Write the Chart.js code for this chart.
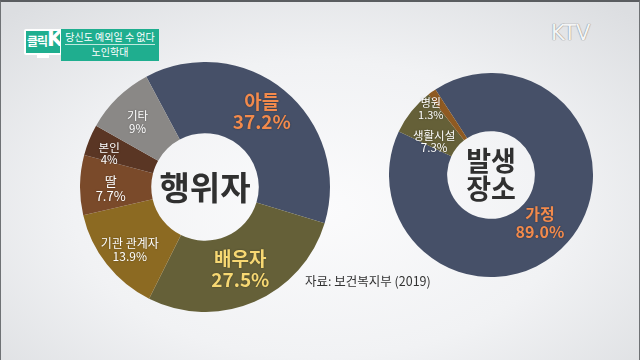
<!DOCTYPE html>
<html>
<head>
<meta charset="utf-8">
<script src="https://cdn.jsdelivr.net/npm/chart.js@4"></script>
<style>
  html, body { margin: 0; padding: 0; }
  body {
    width: 640px; height: 360px; overflow: hidden; position: relative;
    font-family: "Noto Sans CJK KR", "Noto Sans", sans-serif;
    background: radial-gradient(ellipse 70% 75% at 50% 58%, #fbfbfc 0%, #f1f2f4 55%, #dcdee1 100%);
  }
  .frame { position: absolute; left: 0; top: 0; width: 638px; height: 358px; border: 1px solid #6f7275; border-top: 2px solid #5a5d60; }
  .box { position: absolute; }
  #logo { left: 24px; top: 29px; width: 34px; height: 22px; background: #1fae8f; border: 2px solid #ffffff; border-radius: 2px; }
  #logo span { position: absolute; left: 1px; top: 1px; font-size: 12px; font-weight: bold; color: #ffffff; letter-spacing: -1px; }
  #logo b { position: absolute; left: 21px; top: -4px; font-size: 21px; color: #ffffff; font-family: "DejaVu Sans", sans-serif; }
  #stand { left: 37px; top: 55px; width: 12px; height: 3px; background: #ffffff; }
  #tag { left: 61px; top: 29px; width: 98px; height: 31px; background: #1fae8f; color: #fff; font-size: 10px; text-align: center; line-height: 14px; padding-top: 1px; }
  #tag hr { margin: 0 4px; border: 0; border-top: 1px solid #bfe9df; }
  #ktv { left: 551px; top: 21px; font-family: "DejaVu Sans", sans-serif; font-size: 21px; color: #f4f5f6; text-shadow: 0 0 1px #8a8a8a, 0 0 1px #8a8a8a; }
  #src { left: 305px; top: 271px; font-size: 12.5px; color: #333333; }
</style>
</head>
<body>
<div class="frame"></div>
<div class="box" id="logo"><span>클릭</span><b>K</b></div>
<div class="box" id="stand"></div>
<div class="box" id="tag">당신도 예외일 수 없다<hr>노인학대</div>
<div class="box" id="ktv">KTV</div>
<div class="box" style="left:80px;top:62px;width:250px;height:250px"><canvas id="actorChart"></canvas></div>
<div class="box" style="left:389px;top:73px;width:204px;height:204px"><canvas id="placeChart"></canvas></div>
<div class="box" id="src">자료: 보건복지부 (2019)</div>
<script>
// 행위자 (perpetrator)
const actorLabels = ['아들', '배우자', '기관 관계자', '딸', '본인', '기타'];
const actorValues = [37.2, 27.5, 13.9, 7.7, 4, 9];
const actorValueText = ['37.2%', '27.5%', '13.9%', '7.7%', '4%', '9%'];

// 발생장소 (place)
const placeLabels = ['가정', '생활시설', '병원'];
const placeValues = [89.0, 7.3, 1.3];
const placeValueText = ['89.0%', '7.3%', '1.3%'];

const actorColors = ['#465068', '#656038', '#8c6a22', '#7a4a2a', '#5a3624', '#8a8886'];
const placeColors = ['#465068', '#656038', '#8f5a22'];

// label styling per slice: [font size, bold, color, nudge x, nudge y]
const actorTextStyle = [
  [19, true, '#f28a4c', 0, -6], [19, true, '#f7d873', 0, 0], [12, false, '#ffffff', -5, 8],
  [13, false, '#ffffff', -5, 3], [11.5, false, '#ffffff', -13, 0], [11.5, false, '#ffffff', -5, -1]
];
const placeTextStyle = [[16, true, '#f28a4c', -6, 0], [11.5, false, '#ffffff', 0, 12], [11, false, '#ffffff', -18, -7]];

function sliceLabels(names, values, styles, centerLines, centerSize) {
  return {
    id: 'sliceLabels',
    afterDatasetsDraw: function (chart) {
      var ctx = chart.ctx;
      var meta = chart.getDatasetMeta(0);
      ctx.save();
      ctx.textAlign = 'center';
      ctx.textBaseline = 'middle';
      meta.data.forEach(function (arc, i) {
        var p = arc.tooltipPosition();
        var st = styles[i];
        var x = p.x + st[3], y = p.y + st[4];
        ctx.font = (st[1] ? 'bold ' : '') + st[0] + 'px "Noto Sans CJK KR", sans-serif';
        ctx.fillStyle = st[2];
        ctx.shadowColor = 'rgba(0,0,0,0.35)';
        ctx.shadowBlur = 2;
        var lh = st[0] * 1.08;
        ctx.fillText(names[i], x, y - lh / 2);
        ctx.fillText(values[i], x, y + lh / 2);
      });
      ctx.shadowBlur = 0;
      var a = meta.data[0];
      ctx.fillStyle = '#303030';
      ctx.font = 'bold ' + centerSize + 'px "Noto Sans CJK KR", sans-serif';
      var h = centerSize * 1.05;
      centerLines.forEach(function (t, k) {
        ctx.fillText(t, a.x, a.y + (k - (centerLines.length - 1) / 2) * h);
      });
      ctx.restore();
    }
  };
}

function makeDoughnut(id, labels, values, colors, rotation, plugin) {
  return new Chart(document.getElementById(id).getContext('2d'), {
    type: 'doughnut',
    data: {
      labels: labels,
      datasets: [{ data: values, backgroundColor: colors, borderWidth: 0 }]
    },
    options: {
      responsive: true,
      maintainAspectRatio: false,
      animation: false,
      cutout: '43%',
      rotation: rotation,
      layout: { padding: 0 },
      plugins: { legend: { display: false }, tooltip: { enabled: false } }
    },
    plugins: [plugin]
  });
}

makeDoughnut('actorChart', actorLabels, actorValues, actorColors, -28,
  sliceLabels(actorLabels, actorValueText, actorTextStyle, ['행위자'], 33));
makeDoughnut('placeChart', placeLabels, placeValues, placeColors, -33,
  sliceLabels(placeLabels, placeValueText, placeTextStyle, ['발생', '장소'], 27));
</script>
</body>
</html>
